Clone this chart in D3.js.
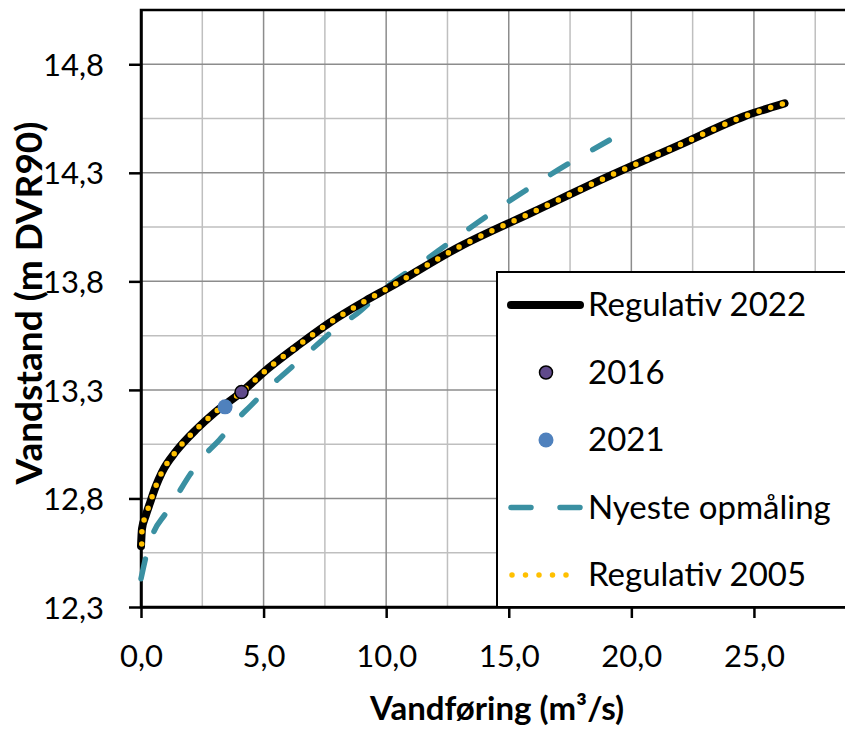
<!DOCTYPE html>
<html>
<head>
<meta charset="utf-8">
<script src="https://cdn.jsdelivr.net/npm/d3@7/dist/d3.min.js"></script>
<style>
  html, body { margin: 0; padding: 0; background: #fff; overflow: hidden; }
  svg { display: block; font-family: Lato, "Open Sans", sans-serif; }
</style>
</head>
<body>
<div id="chart"></div>
<script>
// data (Q in m3/s, h in m DVR90)
const regulativ2022 = [
  [0.0, 12.58], [0.04, 12.66], [0.19, 12.72], [0.37, 12.78], [0.6, 12.855],
  [0.85, 12.92], [1.45, 13.02], [2.27, 13.12], [3.0, 13.195], [4.1, 13.29],
  [5.2, 13.40], [6.35, 13.50], [7.7, 13.61], [9.15, 13.71], [10.1, 13.77],
  [13.0, 13.96], [16.0, 14.12], [19.0, 14.28], [22.0, 14.43], [24.6, 14.56],
  [26.25, 14.62]
];
const regulativ2005 = [
  [0.03, 12.59], [0.04, 12.66], [0.19, 12.72], [0.37, 12.78], [0.6, 12.855],
  [0.85, 12.92], [1.45, 13.02], [2.27, 13.12], [3.0, 13.195], [4.1, 13.29],
  [5.2, 13.40], [6.35, 13.50], [7.7, 13.61], [9.15, 13.71], [10.1, 13.77],
  [13.0, 13.96], [16.0, 14.12], [19.0, 14.28], [22.0, 14.43], [24.6, 14.56],
  [26.25, 14.62]
];
const nyesteOpmaaling = [
  [0.0, 12.43], [0.2, 12.53], [0.5, 12.64], [1.0, 12.73], [1.5, 12.82],
  [2.0, 12.91], [2.6, 13.0], [3.2, 13.07], [3.8, 13.15], [4.5, 13.23],
  [5.2, 13.31], [5.9, 13.38], [6.6, 13.45], [7.3, 13.52], [8.0, 13.59],
  [8.8, 13.65], [9.5, 13.72], [10.2, 13.79], [11.5, 13.89], [12.6, 13.98],
  [14.1, 14.10], [15.7, 14.22], [17.4, 14.34], [19.1, 14.45]
];
const maaling2016 = [[4.1, 13.29]];
const maaling2021 = [[3.43, 13.222]];

const xTicks = [0, 5, 10, 15, 20, 25];
const yTicks = [12.3, 12.8, 13.3, 13.8, 14.3, 14.8];
const xMinorGrid = [2.5, 7.5, 12.5, 17.5, 22.5, 27.5];
const yMinorGrid = [12.55, 13.05, 13.55, 14.05, 14.55, 15.05];

const legendItems = ['Regulativ 2022', '2016', '2021', 'Nyeste opmåling', 'Regulativ 2005'];

const W = 845, H = 731;
const plot = { left: 141, top: 10, bottom: 607, right: 852 };

const svg = d3.select('#chart').append('svg')
  .attr('width', W).attr('height', H);

const x = d3.scaleLinear().domain([0, 29]).range([plot.left, plot.right]);
const y = d3.scaleLinear().domain([12.3, 15.05]).range([plot.bottom, plot.top]);
const fmt = v => d3.format('.1f')(v).replace('.', ',');

// gridlines
const grid = svg.append('g');
grid.selectAll('.vmin').data(xMinorGrid).enter().append('line')
  .attr('x1', d => x(d)).attr('x2', d => x(d))
  .attr('y1', plot.top).attr('y2', plot.bottom)
  .attr('stroke', '#bfbfbf').attr('stroke-width', 1.5);
grid.selectAll('.hmin').data(yMinorGrid).enter().append('line')
  .attr('x1', plot.left).attr('x2', plot.right)
  .attr('y1', d => y(d)).attr('y2', d => y(d))
  .attr('stroke', '#bfbfbf').attr('stroke-width', 1.5);
grid.selectAll('.vmaj').data(xTicks.slice(1)).enter().append('line')
  .attr('x1', d => x(d)).attr('x2', d => x(d))
  .attr('y1', plot.top).attr('y2', plot.bottom)
  .attr('stroke', '#8c8c8c').attr('stroke-width', 1.5);
grid.selectAll('.hmaj').data(yTicks.slice(1)).enter().append('line')
  .attr('x1', plot.left).attr('x2', plot.right)
  .attr('y1', d => y(d)).attr('y2', d => y(d))
  .attr('stroke', '#8c8c8c').attr('stroke-width', 1.5);

// plot frame
svg.append('rect')
  .attr('x', plot.left).attr('y', plot.top)
  .attr('width', plot.right - plot.left).attr('height', plot.bottom - plot.top)
  .attr('fill', 'none').attr('stroke', '#000').attr('stroke-width', 2.5);

// axes
const xAxis = svg.append('g')
  .attr('transform', `translate(0,${plot.bottom})`)
  .call(d3.axisBottom(x).tickValues(xTicks).tickSize(11).tickSizeOuter(0).tickFormat(fmt));
const yAxis = svg.append('g')
  .attr('transform', `translate(${plot.left},0)`)
  .call(d3.axisLeft(y).tickValues(yTicks).tickSize(12).tickSizeOuter(0).tickFormat(fmt));
[xAxis, yAxis].forEach(a => {
  a.select('.domain').attr('stroke', '#000').attr('stroke-width', 2.5);
  a.selectAll('.tick line').attr('stroke', '#000').attr('stroke-width', 2.5);
  a.selectAll('.tick text').attr('fill', '#000').style('font-size', '31px')
    .style('font-family', 'Lato, sans-serif');
});
xAxis.selectAll('.tick text').attr('y', 0).attr('dy', null).attr('transform', 'translate(0,60)');
yAxis.selectAll('.tick text').attr('x', -37).attr('dy', '0.36em');

// curves
const line = d3.line().x(d => x(d[0])).y(d => y(d[1])).curve(d3.curveMonotoneX);

svg.append('path').datum(nyesteOpmaaling)
  .attr('d', line).attr('fill', 'none')
  .attr('stroke', '#3a90a2').attr('stroke-width', 5.5)
  .attr('stroke-linecap', 'round').attr('stroke-dasharray', '20 29');

svg.append('path').datum(regulativ2022)
  .attr('d', line).attr('fill', 'none')
  .attr('stroke', '#000').attr('stroke-width', 8)
  .attr('stroke-linecap', 'round');

svg.append('path').datum(regulativ2005)
  .attr('d', line).attr('fill', 'none')
  .attr('stroke', '#ffc000').attr('stroke-width', 5.5)
  .attr('stroke-linecap', 'round').attr('stroke-dasharray', '0 12.2');

svg.selectAll('.p2021').data(maaling2021).enter().append('circle')
  .attr('cx', d => x(d[0])).attr('cy', d => y(d[1])).attr('r', 7.5)
  .attr('fill', '#4f81bd');
svg.selectAll('.p2016').data(maaling2016).enter().append('circle')
  .attr('cx', d => x(d[0])).attr('cy', d => y(d[1])).attr('r', 6.5)
  .attr('fill', '#604a8b').attr('stroke', '#000').attr('stroke-width', 1.5);

// axis titles
svg.append('text')
  .attr('x', 497).attr('y', 720)
  .attr('text-anchor', 'middle')
  .style('font-size', '33px').style('font-weight', 'bold')
  .text('Vandføring (m³/s)');
svg.append('text')
  .attr('transform', 'translate(42,303) rotate(-90)')
  .attr('text-anchor', 'middle')
  .style('font-size', '37px').style('font-weight', 'bold')
  .text('Vandstand (m DVR90)');

// legend
const lg = svg.append('g');
lg.append('rect')
  .attr('x', 497).attr('y', 272).attr('width', 400).attr('height', plot.bottom - 272)
  .attr('fill', '#fff').attr('stroke', '#000').attr('stroke-width', 2);

const rowY = i => 305 + i * 67.5;
legendItems.forEach((name, i) => {
  const cy = rowY(i);
  if (i === 0) {
    lg.append('line').attr('x1', 511).attr('x2', 580).attr('y1', cy).attr('y2', cy)
      .attr('stroke', '#000').attr('stroke-width', 8).attr('stroke-linecap', 'round');
  } else if (i === 1) {
    lg.append('circle').attr('cx', 546).attr('cy', cy).attr('r', 6.5)
      .attr('fill', '#604a8b').attr('stroke', '#000').attr('stroke-width', 1.5);
  } else if (i === 2) {
    lg.append('circle').attr('cx', 546).attr('cy', cy).attr('r', 7.5).attr('fill', '#4f81bd');
  } else if (i === 3) {
    lg.append('line').attr('x1', 511).attr('x2', 580).attr('y1', cy).attr('y2', cy)
      .attr('stroke', '#3a90a2').attr('stroke-width', 5.5).attr('stroke-linecap', 'round')
      .attr('stroke-dasharray', '20 29');
  } else {
    lg.append('line').attr('x1', 512).attr('x2', 570).attr('y1', cy).attr('y2', cy)
      .attr('stroke', '#ffc000').attr('stroke-width', 5.5).attr('stroke-linecap', 'round')
      .attr('stroke-dasharray', '0 13.5');
  }
  lg.append('text')
    .attr('x', 588).attr('y', cy + 11)
    .style('font-size', '33px')
    .text(name);
});
</script>
</body>
</html>
